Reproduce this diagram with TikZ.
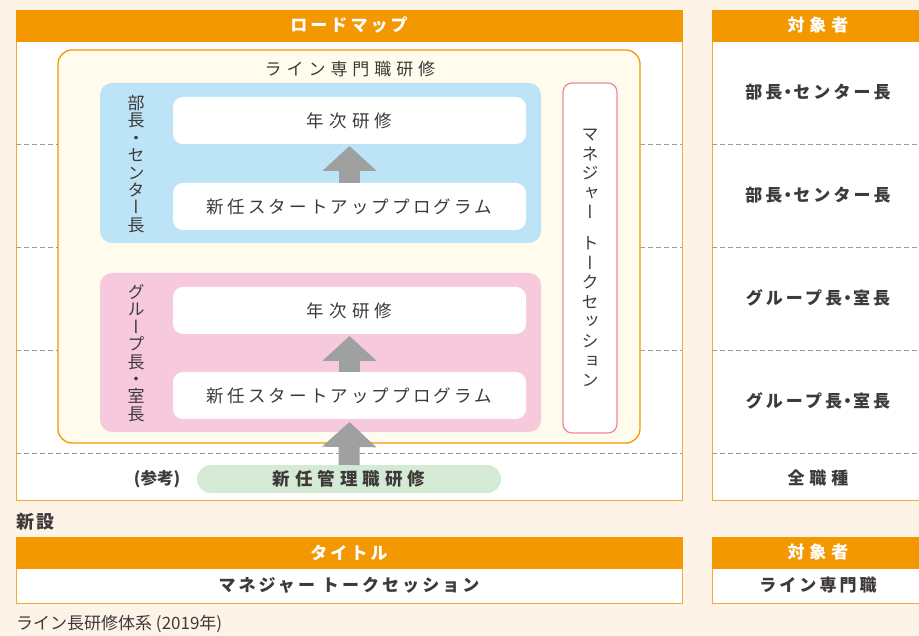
\documentclass[tikz,border=0pt]{standalone}
\usepackage{fontspec}
\setmainfont{Noto Sans CJK JP}
\newfontfamily\jpvert[RawFeature=+vert]{Noto Sans CJK JP}
\newfontfamily\jpnarrow[LetterSpace=13]{Noto Sans CJK JP}
\newfontfamily\jpsp[LetterSpace=18]{Noto Sans CJK JP}
\newfontfamily\jpwide[LetterSpace=29]{Noto Sans CJK JP}
\newcommand\mdot{\hspace{-3pt}・\hspace{-3pt}}
\usetikzlibrary{arrows.meta}

\definecolor{bgcream}{HTML}{FDF4E7}
\definecolor{orng}{HTML}{F39800}
\definecolor{orngline}{HTML}{F5A935}
\definecolor{ivory}{HTML}{FFFCEE}
\definecolor{skyblue}{HTML}{BDE3F7}
\definecolor{pinkbg}{HTML}{F6C9DD}
\definecolor{pinkline}{HTML}{EC87A5}
\definecolor{mint}{HTML}{D5EAD5}
\definecolor{arrowgray}{HTML}{9FA0A0}
\definecolor{ink}{HTML}{3E3A39}
\definecolor{dashgray}{HTML}{9C9C9C}

\begin{document}
\begin{tikzpicture}[x=1pt,y=-1pt,
  box/.style={anchor=north west,inner sep=0pt,outer sep=0pt},
  head/.style={box,fill=orng,draw=orng,text=white,font=\jpsp\bfseries\fontsize{17}{17}\selectfont},
  panel/.style={box,fill=white,draw=orngline,line width=1pt,text=ink},
  whitebox/.style={box,fill=white,rounded corners=10pt,minimum width=353pt,minimum height=47pt,text=ink,font=\jpsp\fontsize{17.5}{18}\selectfont},
  vlabel/.style={text=ink,align=center,inner sep=0pt,font=\jpvert\fontsize{17}{17.4}\selectfont},
  target/.style={text=ink,font=\jpwide\bfseries\fontsize{17}{18}\selectfont},
  sep/.style={dashgray,line width=0.8pt,dash pattern=on 5pt off 3pt},
  blockarrow/.style={arrowgray,line width=21pt,-{Triangle[width=53pt,length=25pt]}}]

\fill[bgcream] (0,0) rectangle (919,636);
\useasboundingbox (0,0) rectangle (919,636);

% roadmap panel
\node[panel,minimum width=666pt,minimum height=459pt] (rmbody) at (16,41) {};
\node[head,minimum width=666pt,minimum height=31pt] (rmhead) at (16,10) {ロードマップ};
% target panel
\node[panel,minimum width=212pt,minimum height=459pt] (tgbody) at (712,41) {};
\node[head,minimum width=212pt,minimum height=31pt,font=\jpwide\bfseries\fontsize{17}{17}\selectfont] (tghead) at (712,10) {対象者};

\foreach \y in {144,247,350,453}{
  \draw[sep] (rmbody.west |- 0,\y) -- (rmbody.east |- 0,\y);
  \draw[sep] (tgbody.west |- 0,\y) -- (tgbody.east |- 0,\y);
}

% line training
\node[box,fill=ivory,draw=orng,line width=1.3pt,rounded corners=14pt,minimum width=582pt,minimum height=393pt] (lsbox) at (58,50) {};
\node[text=ink,font=\jpwide\fontsize{17}{18}\selectfont] (lstitle) at (350,69) {ライン専門職研修};

\node[box,fill=skyblue,rounded corners=12pt,minimum width=441pt,minimum height=160pt] (bucho) at (100,83) {};
\node[box,fill=pinkbg,rounded corners=12pt,minimum width=441pt,minimum height=159pt] (group) at (100,273) {};
\node[vlabel] (bulbl) at (136,164) {部\\長\\・\\セ\\ン\\タ\\ー\\長};
\node[vlabel] (grlbl) at (136,353) {グ\\ル\\ー\\プ\\長\\・\\室\\長};

\node[whitebox,font=\jpwide\fontsize{17.5}{18}\selectfont] (buannual) at (173,97) {年次研修};
\node[whitebox] (bustart) at (173,183) {新任スタートアッププログラム};
\node[whitebox,font=\jpwide\fontsize{17.5}{18}\selectfont] (grannual) at (173,287) {年次研修};
\node[whitebox] (grstart) at (173,372) {新任スタートアッププログラム};

\node[box,fill=white,draw=pinkline,line width=1.2pt,rounded corners=9pt,minimum width=54pt,minimum height=350pt,align=center,text=ink,font=\jpvert\fontsize{17}{19.6}\selectfont] (mtalk) at (563,83) {マ\\ネ\\ジ\\ャ\\ー\\[11pt]ト\\ー\\ク\\セ\\ッ\\シ\\ョ\\ン};

% reference course
\node[box,fill=mint,rounded corners=14pt,minimum width=304pt,minimum height=28pt,text=ink,font=\jpwide\bfseries\fontsize{17.5}{18}\selectfont] (shinnin) at (197,465) {新任管理職研修};
\node[text=ink,font=\bfseries\fontsize{16.5}{17}\selectfont] (sanko) at (157,479) {(参考)};

\draw[blockarrow,shorten >=2pt] (bustart.north) -- (buannual.south);
\draw[blockarrow,shorten >=2pt] (grstart.north) -- (grannual.south);
\draw[blockarrow,shorten >=3pt] (shinnin.north) -- (grstart.south);

% targets
\node[target,font=\jpsp\bfseries\fontsize{17}{18}\selectfont] (tg1) at (818,92) {部長\mdot センター長};
\node[target,font=\jpsp\bfseries\fontsize{17}{18}\selectfont] (tg2) at (818,195) {部長\mdot センター長};
\node[target,font=\jpsp\bfseries\fontsize{17}{18}\selectfont] (tg3) at (818,298) {グループ長\mdot 室長};
\node[target,font=\jpsp\bfseries\fontsize{17}{18}\selectfont] (tg4) at (818,401) {グループ長\mdot 室長};
\node[target] (tg5) at (818,478) {全職種};

% new course
\node[anchor=west,inner sep=0pt,text=ink,font=\jpnarrow\bfseries\fontsize{18}{18}\selectfont] (shinsetsu) at (16,522) {新設};
\node[panel,minimum width=666pt,minimum height=35pt,font=\jpsp\bfseries\fontsize{17}{18}\selectfont] (ttlbody) at (16,568) {マネジャー トークセッション};
\node[head,minimum width=666pt,minimum height=31pt] (ttlhead) at (16,537) {タイトル};
\node[panel,minimum width=212pt,minimum height=35pt,font=\jpsp\bfseries\fontsize{17}{18}\selectfont] (tg2body) at (712,568) {ライン専門職};
\node[head,minimum width=212pt,minimum height=31pt,font=\jpwide\bfseries\fontsize{17}{17}\selectfont] (tg2head) at (712,537) {対象者};

\node[anchor=west,inner sep=0pt,text=ink,font=\fontsize{17}{18}\selectfont] (caption) at (16,624) {ライン長研修体系 (2019年)};
\end{tikzpicture}
\end{document}
